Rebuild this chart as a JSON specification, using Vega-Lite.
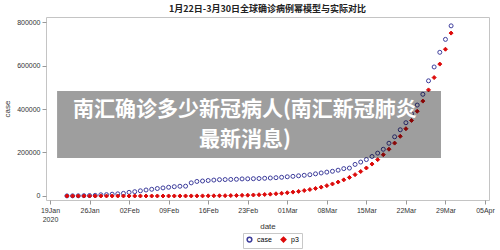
{
  "$schema": "https://vega.github.io/schema/vega-lite/v6.json",
  "width": 443,
  "height": 183,
  "autosize": "none",
  "padding": {"left": 46, "top": 17, "right": 11, "bottom": 50},
  "background": "white",
  "title": {"text": "1月22日-3月30日全球确诊病例幂模型与实际对比", "font": "Noto Sans CJK SC", "fontSize": 9, "fontWeight": "bold", "color": "#222", "anchor": "middle", "offset": 3},
  "config": {
    "view": {"stroke": "#c4c4c4"},
    "axis": {"labelFont": "Liberation Sans", "titleFont": "Liberation Sans", "labelFontSize": 7, "titleFontSize": 8, "titleFontWeight": "normal", "labelColor": "#333", "titleColor": "#333", "tickColor": "#999", "domain": false, "grid": false, "tickSize": 4},
    "legend": {"labelFont": "Liberation Sans"}
  },
  "datasets": {
    "pts": [
      {"date": "2020-01-22", "case": 555, "p3": 0},
      {"date": "2020-01-23", "case": 654, "p3": 0},
      {"date": "2020-01-24", "case": 941, "p3": 0},
      {"date": "2020-01-25", "case": 1434, "p3": 0},
      {"date": "2020-01-26", "case": 2118, "p3": 0},
      {"date": "2020-01-27", "case": 2927, "p3": 0},
      {"date": "2020-01-28", "case": 5578, "p3": 0},
      {"date": "2020-01-29", "case": 6166, "p3": 0},
      {"date": "2020-01-30", "case": 8234, "p3": 0},
      {"date": "2020-01-31", "case": 9927, "p3": 1},
      {"date": "2020-02-01", "case": 12038, "p3": 1},
      {"date": "2020-02-02", "case": 16787, "p3": 2},
      {"date": "2020-02-03", "case": 19881, "p3": 4},
      {"date": "2020-02-04", "case": 23892, "p3": 8},
      {"date": "2020-02-05", "case": 27635, "p3": 13},
      {"date": "2020-02-06", "case": 30817, "p3": 20},
      {"date": "2020-02-07", "case": 34391, "p3": 30},
      {"date": "2020-02-08", "case": 37120, "p3": 45},
      {"date": "2020-02-09", "case": 40150, "p3": 70},
      {"date": "2020-02-10", "case": 42762, "p3": 103},
      {"date": "2020-02-11", "case": 44802, "p3": 146},
      {"date": "2020-02-12", "case": 45221, "p3": 204},
      {"date": "2020-02-13", "case": 60368, "p3": 281},
      {"date": "2020-02-14", "case": 66885, "p3": 381},
      {"date": "2020-02-15", "case": 69030, "p3": 511},
      {"date": "2020-02-16", "case": 71224, "p3": 678},
      {"date": "2020-02-17", "case": 73258, "p3": 888},
      {"date": "2020-02-18", "case": 75136, "p3": 1153},
      {"date": "2020-02-19", "case": 75639, "p3": 1485},
      {"date": "2020-02-20", "case": 76197, "p3": 1895},
      {"date": "2020-02-21", "case": 76823, "p3": 2398},
      {"date": "2020-02-22", "case": 78579, "p3": 3012},
      {"date": "2020-02-23", "case": 78965, "p3": 3755},
      {"date": "2020-02-24", "case": 79568, "p3": 4652},
      {"date": "2020-02-25", "case": 80413, "p3": 5727},
      {"date": "2020-02-26", "case": 81395, "p3": 7012},
      {"date": "2020-02-27", "case": 82754, "p3": 8535},
      {"date": "2020-02-28", "case": 84120, "p3": 10335},
      {"date": "2020-02-29", "case": 86011, "p3": 12454},
      {"date": "2020-03-01", "case": 88369, "p3": 14940},
      {"date": "2020-03-02", "case": 90306, "p3": 17840},
      {"date": "2020-03-03", "case": 92840, "p3": 21210},
      {"date": "2020-03-04", "case": 95120, "p3": 25110},
      {"date": "2020-03-05", "case": 97886, "p3": 29620},
      {"date": "2020-03-06", "case": 101801, "p3": 34820},
      {"date": "2020-03-07", "case": 105847, "p3": 40750},
      {"date": "2020-03-08", "case": 109821, "p3": 47550},
      {"date": "2020-03-09", "case": 113590, "p3": 55320},
      {"date": "2020-03-10", "case": 118620, "p3": 64130},
      {"date": "2020-03-11", "case": 125875, "p3": 74140},
      {"date": "2020-03-12", "case": 128352, "p3": 85450},
      {"date": "2020-03-13", "case": 145205, "p3": 98220},
      {"date": "2020-03-14", "case": 156101, "p3": 112600},
      {"date": "2020-03-15", "case": 167454, "p3": 128800},
      {"date": "2020-03-16", "case": 181574, "p3": 146900},
      {"date": "2020-03-17", "case": 197102, "p3": 167200},
      {"date": "2020-03-18", "case": 214821, "p3": 189900},
      {"date": "2020-03-19", "case": 242570, "p3": 215100},
      {"date": "2020-03-20", "case": 272208, "p3": 243200},
      {"date": "2020-03-21", "case": 304507, "p3": 274500},
      {"date": "2020-03-22", "case": 336953, "p3": 309200},
      {"date": "2020-03-23", "case": 378235, "p3": 347300},
      {"date": "2020-03-24", "case": 418045, "p3": 389600},
      {"date": "2020-03-25", "case": 467653, "p3": 436300},
      {"date": "2020-03-26", "case": 529591, "p3": 487800},
      {"date": "2020-03-27", "case": 593291, "p3": 544500},
      {"date": "2020-03-28", "case": 660706, "p3": 606500},
      {"date": "2020-03-29", "case": 720117, "p3": 674800},
      {"date": "2020-03-30", "case": 782365, "p3": 749000}
    ],
    "box": [
      {"start": "2020-01-20T06:00:00Z", "end": "2020-03-28T05:00:00Z", "low": 174700, "high": 482760, "mid": "2020-02-22T12:00:00Z", "center": 396000, "label": "南汇确诊多少新冠病人(南汇新冠肺炎\n最新消息)"}
    ]
  },
  "layer": [
    {
      "data": {"name": "pts"},
      "transform": [{"fold": ["case", "p3"], "as": ["series", "value"]}],
      "mark": {"type": "point", "filled": false, "strokeWidth": 1, "opacity": 1},
      "encoding": {
        "x": {
          "field": "date", "type": "temporal",
          "scale": {"type": "utc", "domain": ["2020-01-18T07:00:00Z", "2020-04-05T17:00:00Z"], "nice": false},
          "axis": {
            "title": "date",
            "values": ["2020-01-19T00:00:00Z", "2020-01-26T00:00:00Z", "2020-02-02T00:00:00Z", "2020-02-09T00:00:00Z", "2020-02-16T00:00:00Z", "2020-02-23T00:00:00Z", "2020-03-01T00:00:00Z", "2020-03-08T00:00:00Z", "2020-03-15T00:00:00Z", "2020-03-22T00:00:00Z", "2020-03-29T00:00:00Z", "2020-04-05T00:00:00Z"],
            "labelExpr": "utcFormat(datum.value, '%d%b') == '19Jan' ? ['19Jan', '2020'] : utcFormat(datum.value, '%d%b')",
            "labelPadding": 2,
            "titlePadding": 0
          }
        },
        "y": {
          "field": "value", "type": "quantitative",
          "scale": {"domain": [-18400, 823000], "nice": false, "zero": false},
          "axis": {"title": "case", "values": [0, 200000, 400000, 600000, 800000], "format": "d", "labelPadding": 2, "titlePadding": 5}
        },
        "color": {"field": "series", "type": "nominal", "scale": {"domain": ["case", "p3"], "range": ["#3d3d9c", "#dd0a0a"]},
          "legend": {"title": null, "orient": "none", "legendX": 197, "legendY": 216, "direction": "horizontal", "labelFontSize": 7, "symbolSize": 22, "strokeColor": "#c8c8c8", "padding": 3, "columnPadding": 6}},
        "fill": {"field": "series", "type": "nominal", "scale": {"domain": ["case", "p3"], "range": ["transparent", "#dd0a0a"]}},
        "shape": {"field": "series", "type": "nominal", "scale": {"domain": ["case", "p3"], "range": ["circle", "diamond"]}},
        "size": {"value": 16}
      }
    },
    {
      "data": {"name": "box"},
      "mark": {"type": "rect", "color": "black", "opacity": 0.38},
      "encoding": {
        "x": {"field": "start", "type": "temporal"},
        "x2": {"field": "end"},
        "y": {"field": "low", "type": "quantitative"},
        "y2": {"field": "high"}
      }
    },
    {
      "data": {"name": "box"},
      "mark": {"type": "text", "color": "white", "font": "Noto Sans CJK SC", "fontWeight": "bold", "fontSize": 21, "lineBreak": "\n", "lineHeight": 30, "align": "center", "baseline": "middle"},
      "encoding": {
        "x": {"field": "mid", "type": "temporal"},
        "y": {"field": "center", "type": "quantitative"},
        "text": {"field": "label"}
      }
    }
  ]
}
